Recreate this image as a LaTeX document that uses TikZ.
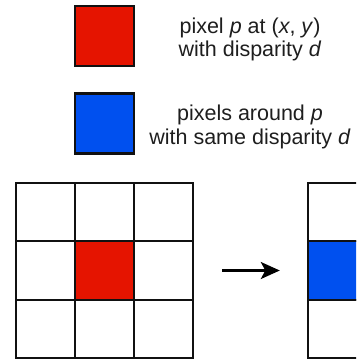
\documentclass[tikz,border=0pt]{standalone}
\usepackage{fontspec}
\setmainfont{Liberation Sans}
\usetikzlibrary{arrows.meta}
\definecolor{pxred}{HTML}{E51400}
\definecolor{pxblue}{HTML}{0050EF}
\definecolor{ink}{HTML}{1E1E1E}
\definecolor{edge}{HTML}{111111}
\tikzset{
  cell/.style={draw=edge, line width=2.2pt, fill=white, inner sep=0pt,
    minimum width=59pt, minimum height=58.3pt},
  redcell/.style={cell, fill=pxred},
  bluecell/.style={cell, fill=pxblue},
  legendbox/.style={cell, minimum height=60pt},
  caption/.style={inner sep=0pt, anchor=base, text=ink,
    font=\fontsize{21.5}{24}\selectfont},
  gridbox/.style={inner sep=0pt, minimum width=177pt, minimum height=175pt},
  flow/.style={line width=2.2pt, draw=black,
    -{Stealth[length=19pt, width=17pt, inset=4.5pt]}},
}
\begin{document}
\begin{tikzpicture}[x=1pt, y=-1pt]
  \useasboundingbox (0,0) rectangle (356,363);
  \clip (0,0) rectangle (356,363);

  % legend
  \node[legendbox, fill=pxred]  (legred)  at (104.5, 36) {};
  \node[legendbox, fill=pxblue] (legblue) at (104.5, 123.5) {};
  \node[caption] (capA1) at (250, 34)  {pixel \textit{p} at (\textit{x}, \textit{y})};
  \node[caption] (capA2) at (250, 57)  {with disparity \textit{d}};
  \node[caption] (capB1) at (250, 121) {pixels around \textit{p}};
  \node[caption] (capB2) at (250, 145) {with same disparity \textit{d}};

  % left 3x3 neighbourhood, centre pixel highlighted
  \node[gridbox] (gridL) at (104.5, 270.5) {};
  \foreach \c/\x in {0/45.5, 1/104.5, 2/163.5}
    \foreach \r/\y in {0/212.2, 1/270.5, 2/328.8}
      \node[cell] (L-\r-\c) at (\x, \y) {};
  \node[redcell] (L-1-1) at (104.5, 270.5) {};

  % right neighbourhood, middle row with the same disparity
  \node[gridbox] (gridR) at (396.5, 270.5) {};
  \node[cell]     (R-0-0) at (337.5, 212.2) {};
  \node[cell]     (R-2-0) at (337.5, 328.8) {};
  \node[bluecell] (R-1-0) at (337.5, 270.5) {};

  \draw[flow, shorten <=29pt, shorten >=28pt] (gridL.east) -- (gridR.west);
\end{tikzpicture}
\end{document}
